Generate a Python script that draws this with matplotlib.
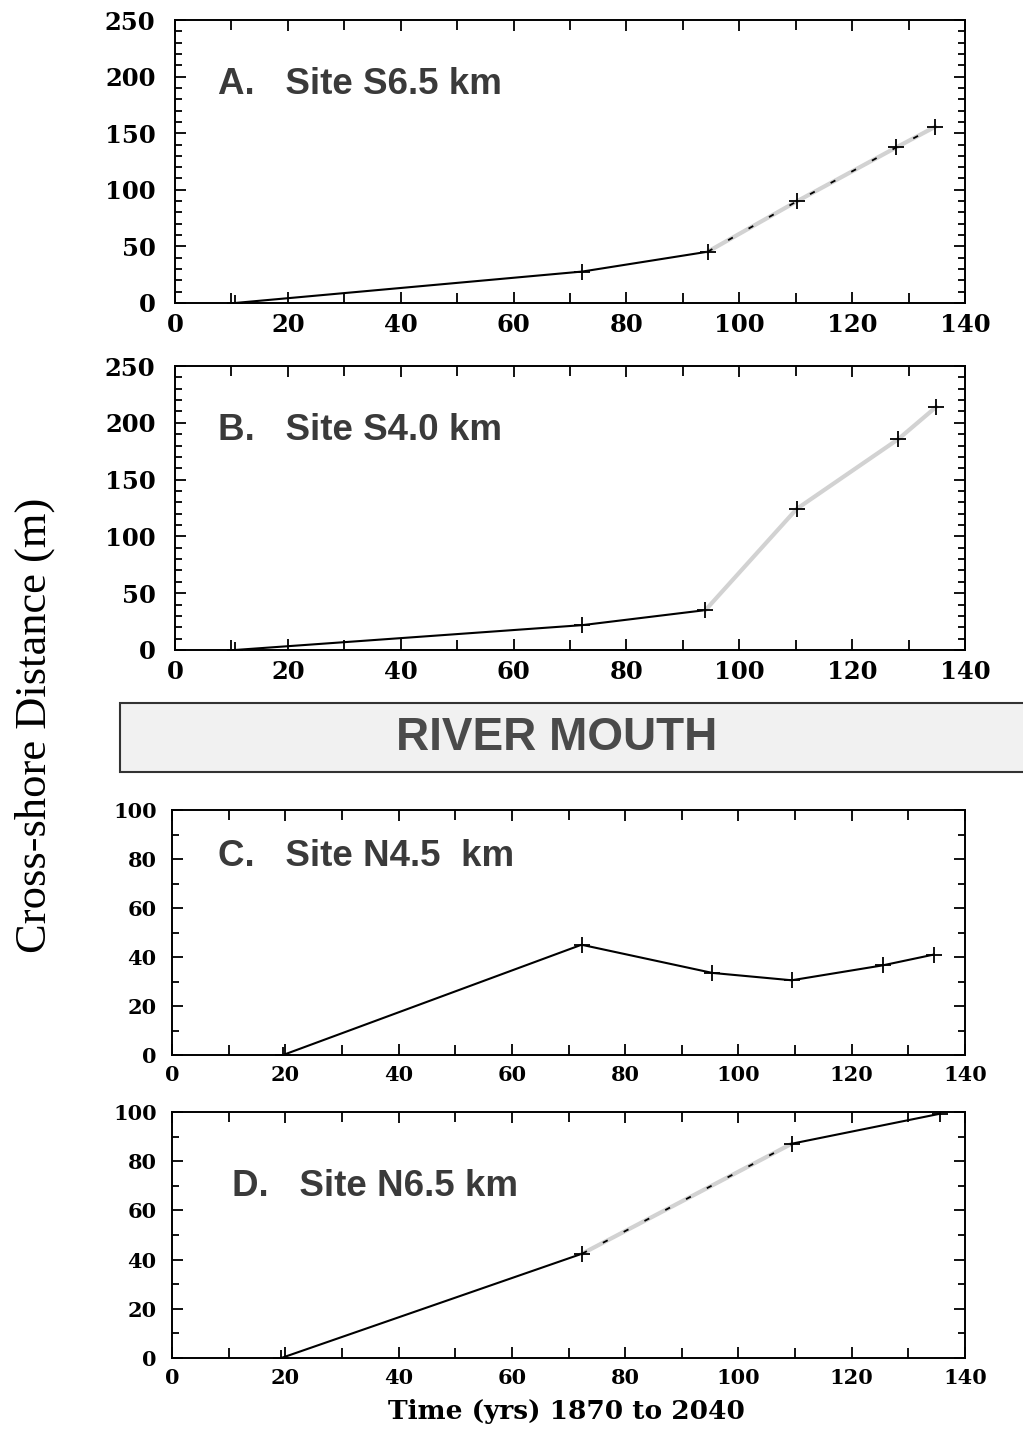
import matplotlib
matplotlib.use("Agg")
import matplotlib.pyplot as plt
from matplotlib.patches import Rectangle
from matplotlib.ticker import MultipleLocator

# time (yrs since 1870) vs cross-shore distance (m)
a_x = [10.6, 72.2, 94.4, 110.2, 127.8, 134.7]
a_y = [0, 27.8, 45.3, 89.8, 137.4, 155.6]
b_x = [10.6, 72.2, 94.0, 110.2, 128.2, 134.9]
b_y = [0, 21.9, 35.1, 124.3, 185.7, 214.0]
c_x = [19.6, 72.3, 95.4, 109.4, 125.5, 134.5]
c_y = [0, 45.0, 33.5, 30.5, 36.6, 41.0]
d_x = [19.3, 72.4, 109.4, 135.6]
d_y = [0, 42.4, 87.1, 99.3]

labels = ["A.   Site S6.5 km", "B.   Site S4.0 km", "C.   Site N4.5  km", "D.   Site N6.5 km"]

W, H = 1023, 1429
fig = plt.figure(figsize=(W / 100, H / 100), dpi=100)

tick_font = {"family": "DejaVu Serif", "weight": "bold"}
lab_family = ["Liberation Sans Narrow", "Liberation Sans", "DejaVu Sans"]
lab_color = "#3a3a3a"
gray = "#d2d2d2"


def setup(ax, ymax, ymajor, fs, ypad):
    ax.set_xlim(0, 140)
    ax.set_ylim(0, ymax)
    ax.xaxis.set_major_locator(MultipleLocator(20))
    ax.xaxis.set_minor_locator(MultipleLocator(10))
    ax.yaxis.set_major_locator(MultipleLocator(ymajor))
    ax.yaxis.set_minor_locator(MultipleLocator(10))
    ax.tick_params(which="both", direction="in", top=True, right=True, width=1.3)
    ax.tick_params(which="major", length=8)
    ax.tick_params(which="minor", length=5)
    ax.tick_params(axis="x", which="minor", length=7)
    ax.tick_params(axis="x", pad=7)
    ax.tick_params(axis="y", pad=ypad)
    for s in ax.spines.values():
        s.set_linewidth(1.4)
    for t in ax.get_xticklabels() + ax.get_yticklabels():
        t.set_fontproperties(tick_font)
        t.set_fontsize(fs)


def px_axes(l, r, top, bot):
    return fig.add_axes([l / W, 1 - bot / H, (r - l) / W, (bot - top) / H])


mk = dict(marker="+", markersize=12, markeredgewidth=1.3, color="black", linestyle="none")

# A
ax = px_axes(175, 965, 20, 303)
setup(ax, 250, 50, 17.5, 14)
ax.plot(a_x[:3], a_y[:3], color="black", lw=1.5)
ax.plot(a_x[2:], a_y[2:], color=gray, lw=3)
ax.plot(a_x[2:], a_y[2:], color="black", lw=1.3, dashes=(3, 10))
ax.plot(a_x, a_y, **mk)
ax.text(7.6, 185, labels[0], family=lab_family, weight="bold", fontsize=26.5, color=lab_color)

# B
ax = px_axes(175, 965, 366, 650)
setup(ax, 250, 50, 17.5, 14)
ax.plot(b_x[:3], b_y[:3], color="black", lw=1.5)
ax.plot(b_x[2:], b_y[2:], color=gray, lw=3)
ax.plot(b_x, b_y, **mk)
ax.text(7.6, 185, labels[1], family=lab_family, weight="bold", fontsize=26.5, color=lab_color)

# river mouth band
fig.add_artist(Rectangle((120 / W, 1 - 772 / H), 920 / W, 69 / H, transform=fig.transFigure,
                         facecolor="#f1f1f1", edgecolor="#333333", lw=1.5))
fig.text(557 / W, 1 - 738 / H, "RIVER MOUTH", ha="center", va="center",
         family=["Liberation Sans", "DejaVu Sans"], weight="bold", fontsize=33, color="#4a4a4a")

# C
ax = px_axes(172, 965, 810, 1055)
setup(ax, 100, 20, 15, 11)
ax.plot(c_x, c_y, color="black", lw=1.5)
ax.plot(c_x, c_y, **mk)
ax.text(8.1, 77, labels[2], family=lab_family, weight="bold", fontsize=26.5, color=lab_color)

# D
ax = px_axes(172, 965, 1112, 1358)
setup(ax, 100, 20, 15, 11)
ax.plot(d_x[:2], d_y[:2], color="black", lw=1.5)
ax.plot(d_x[1:3], d_y[1:3], color=gray, lw=3)
ax.plot(d_x[1:3], d_y[1:3], color="black", lw=1.3, dashes=(3, 10))
ax.plot(d_x[2:], d_y[2:], color="black", lw=1.5)
ax.plot(d_x, d_y, **mk)
ax.text(10.6, 66, labels[3], family=lab_family, weight="bold", fontsize=26.5, color=lab_color)

fig.text(35 / W, 1 - 725 / H, "Cross-shore Distance (m)", rotation=90, ha="center", va="center",
         family="Liberation Serif", fontsize=32)
fig.text(566 / W, 1 - 1412 / H, "Time (yrs) 1870 to 2040", ha="center", va="center",
         family="DejaVu Serif", weight="bold", fontsize=19)

fig.savefig("out.png", dpi=100)
